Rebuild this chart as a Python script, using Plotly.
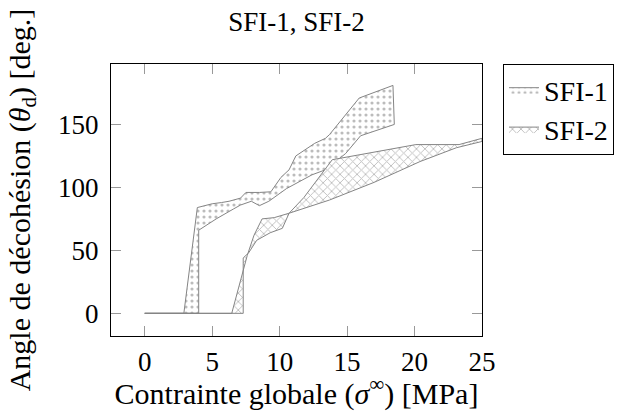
import plotly.graph_objects as go

# SFI-1 band boundaries
sfi1_upper_x = [0, 2.9, 3.9, 5.0, 5.7, 6.25, 7.1, 7.5, 8.5, 9.35, 10.1, 10.7, 11.2, 12.6, 13.4, 13.7, 15.9, 18.4]
sfi1_upper_y = [0, 0, 84, 87, 88, 89, 91.5, 96, 96, 96.5, 108, 114, 125, 135, 139, 142, 171, 181]
sfi1_lower_x = [0, 4.0, 4.0, 5.3, 6.1, 6.6, 7.1, 7.9, 8.5, 9.2, 10.5, 11.2, 12.4, 13.4, 14.9, 16.0, 18.5]
sfi1_lower_y = [0, 0, 66, 75, 80, 83, 86, 89, 85.5, 89, 99, 103, 110, 114, 127, 141, 150]

# SFI-2 band boundaries
sfi2_a_x = [0, 6.45, 7.6, 8.1, 8.7, 9.6, 10.7, 13.7, 17.0, 20.4, 23.1, 25]
sfi2_a_y = [0, 0, 46, 62, 75, 76, 79.5, 90, 104, 120.5, 131.5, 136.5]
sfi2_b_x = [0, 7.3, 7.3, 7.7, 8.3, 9.3, 10.2, 10.7, 11.8, 13.9, 20.1, 23.3, 25]
sfi2_b_y = [0, 0, 44, 48, 58, 64, 67.5, 79.5, 92, 122, 134, 134, 139]

x_ticks = [0, 5, 10, 15, 20, 25]
y_ticks = [0, 50, 100, 150]

GRAY = "#858585"
FONT = "Liberation Serif"

fig = go.Figure()
fig.add_trace(go.Scatter(
    x=sfi1_upper_x + sfi1_lower_x[::-1],
    y=sfi1_upper_y + sfi1_lower_y[::-1],
    mode="lines", fill="toself", name="SFI-1",
    line=dict(color=GRAY, width=1),
    fillcolor="white",
    fillpattern=dict(shape=".", fgcolor="#7a7a7a", bgcolor="white", size=6, solidity=0.22),
))
fig.add_trace(go.Scatter(
    x=sfi2_a_x + sfi2_b_x[::-1],
    y=sfi2_a_y + sfi2_b_y[::-1],
    mode="lines", fill="toself", name="SFI-2",
    line=dict(color=GRAY, width=1),
    fillcolor="white",
    fillpattern=dict(shape="x", fgcolor="#7a7a7a", bgcolor="white", size=6, solidity=0.28),
))

axis_common = dict(
    showline=True, linecolor="black", linewidth=1, mirror="allticks",
    ticks="inside", ticklen=10, tickcolor="#999999", tickwidth=1,
    showgrid=False, zeroline=False, automargin=False,
    tickfont=dict(family=FONT, size=27, color="black"),
)

fig.update_layout(
    width=634, height=411,
    margin=dict(l=111, r=152, t=64, b=75),
    paper_bgcolor="white", plot_bgcolor="white",
    title=dict(text="SFI-1, SFI-2", x=(111 + 482) / 2 / 634, xanchor="center",
               y=1 - 22 / 411, yanchor="middle", yref="container",
               font=dict(family=FONT, size=27, color="black")),
    xaxis=dict(range=[-2.5, 25], tickvals=x_ticks,
               title=dict(text="Contrainte globale (<i>σ</i><sup>∞</sup>) [MPa]",
                          font=dict(family=FONT, size=30, color="black"), standoff=0),
               ticklabelstandoff=2,
               **axis_common),
    yaxis=dict(range=[-18, 198], tickvals=y_ticks,
               title=dict(text="Angle de décohésion (<i>θ</i><sub>d</sub>) [deg.]",
                          font=dict(family=FONT, size=30, color="black"), standoff=18),
               ticklabelstandoff=6,
               **axis_common),
    legend=dict(x=(503 - 111) / 371, xanchor="left", y=1, yanchor="top",
                bordercolor="black", borderwidth=1, bgcolor="white",
                font=dict(family=FONT, size=28, color="black"),
                itemwidth=30, tracegroupgap=0),
    showlegend=True,
)

fig.write_html("out.html")
